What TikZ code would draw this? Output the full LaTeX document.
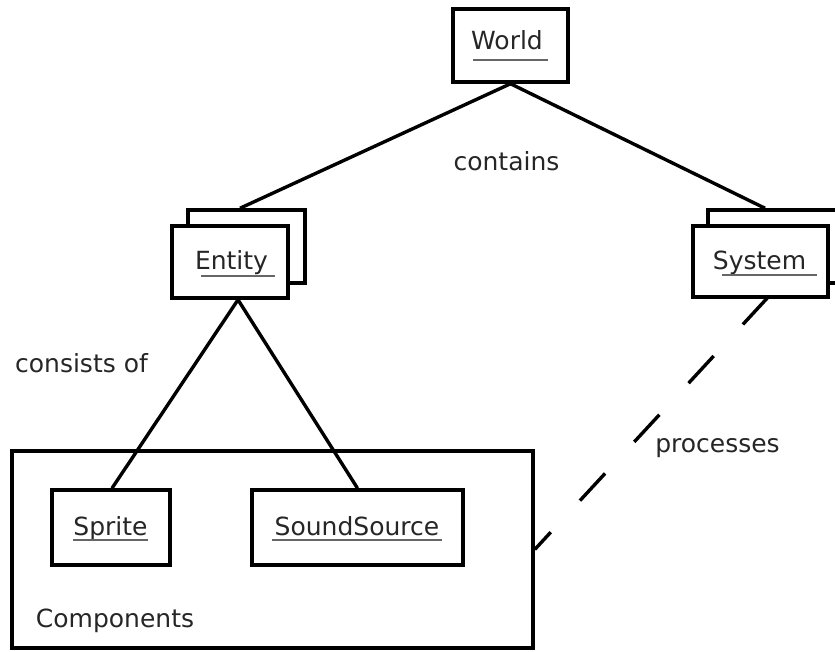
\documentclass[tikz,border=0pt]{standalone}
\usepackage{fontspec}
\setmainfont{DejaVu Sans}
\begin{document}
\begin{tikzpicture}[x=1pt,y=-1pt,
  box/.style={draw=black,line width=3.5pt,fill=white,rectangle,inner sep=0pt},
  lbl/.style={inner sep=0pt,anchor=base,text=black!85,font=\fontsize{25}{30}\selectfont},
  uline/.style={draw=black!60,line width=2.4pt},
  conn/.style={draw=black,line width=3.4pt},
  dashconn/.style={draw=black,line width=3.4pt,dash pattern=on 37pt off 43pt}]
\clip (0,0) rectangle (835,652);
\fill[white] (0,0) rectangle (835,652);
% boxes
\node[box,minimum width=115pt,minimum height=73pt] (world) at (510.5,45.5) {};
\node[box,minimum width=117pt,minimum height=73pt] (entityback) at (246.5,246.5) {};
\node[box,minimum width=116pt,minimum height=72pt] (entity) at (230,262) {};
\node[box,minimum width=142pt,minimum height=73pt] (systemback) at (779,246.5) {};
\node[box,minimum width=135pt,minimum height=71pt] (system) at (760.5,261.5) {};
\node[box,minimum width=521pt,minimum height=197pt] (components) at (272.5,549.5) {};
\node[box,minimum width=118pt,minimum height=75pt] (sprite) at (111,527.5) {};
\node[box,minimum width=211pt,minimum height=75pt] (sound) at (357.5,527.5) {};
% box texts
\node[lbl] (worldt) at (507,50) {World};
\draw[uline] (473,60) -- (548,60);
\node[lbl] (entityt) at (231.5,270) {Entity};
\draw[uline] (201,276) -- (275,276);
\node[lbl] (systemt) at (759.5,270) {System};
\draw[uline] (722,275) -- (817,275);
\node[lbl] (spritet) at (110.5,535) {Sprite};
\draw[uline] (73,540) -- (148,540);
\node[lbl] (soundt) at (357,535) {SoundSource};
\draw[uline] (272,540) -- (442,540);
% connectors
\draw[conn] (world.south) -- ([xshift=-6.5pt]entityback.north);
\draw[conn] (world.south) -- ([xshift=-14pt]systemback.north);
\draw[conn] ([xshift=8pt]entity.south) -- ([xshift=1pt]sprite.north);
\draw[conn] ([xshift=8pt]entity.south) -- (sound.north);
\draw[dashconn] ([xshift=7.5pt,yshift=1.5pt]system.south) -- (components.east);
% labels
\node[lbl] (contains) at (506.5,171) {contains};
\node[lbl] (consists) at (81.5,372) {consists of};
\node[lbl] (processes) at (717.5,452) {processes};
\node[lbl] (complbl) at (115,627) {Components};
\end{tikzpicture}
\end{document}
